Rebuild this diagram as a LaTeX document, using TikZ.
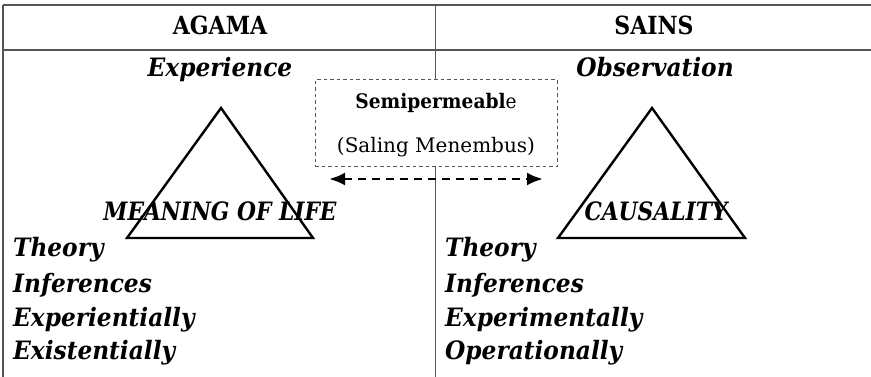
\documentclass[tikz,border=0pt]{standalone}
\usepackage{fontspec}
\setmainfont{DejaVu Serif}
\newfontfamily\headfont{DejaVu Serif}[FakeStretch=0.88]
\newfontfamily\itfont{DejaVu Serif}[FakeStretch=0.92]
\newfontfamily\capsfont{DejaVu Serif}[FakeStretch=0.86]
\newfontfamily\semifont{DejaVu Serif}[FakeStretch=0.93]
\usetikzlibrary{arrows.meta}
\definecolor{rule}{HTML}{555555}
\begin{document}
\begin{tikzpicture}[x=1pt,y=-1pt,
  grid/.style={draw=rule,line width=1.7pt},
  head/.style={inner sep=0pt,anchor=base,font=\headfont\fontsize{25}{28}\selectfont\bfseries},
  term/.style={inner sep=0pt,font=\itfont\fontsize{25.3}{28}\selectfont\bfseries\itshape},
  capterm/.style={inner sep=0pt,anchor=base,font=\capsfont\fontsize{25.3}{28}\selectfont\bfseries\itshape},
  tri/.style={draw=black,line width=2.4pt,line join=miter},
  membrane/.style={draw=rule,line width=1pt,fill=white,dash pattern=on 3.5pt off 3pt},
  boxtext/.style={inner sep=0pt,anchor=base,font=\fontsize{20}{24}\selectfont},
  flow/.style={draw=black,line width=2.8pt,dash pattern=on 8pt off 6pt,{Latex[length=16pt,width=13pt]}-{Latex[length=16pt,width=13pt]}}
]
\useasboundingbox (0,0) rectangle (871,377);

% table rules
\coordinate (tl) at (3,5);
\coordinate (tr) at (871,5);
\coordinate (hl) at (3,50);
\coordinate (hr) at (871,50);
\coordinate (bl) at (3,377);
\coordinate (mt) at (435.5,5);
\coordinate (mb) at (435.5,377);
\draw[grid] (tl) -- (tr);
\draw[grid] (hl) -- (hr);
\draw[grid] (tl) -- (bl);
\draw[grid] (mt) -- (mb);

% column headings
\node[head] (agama) at (220,35) {AGAMA};
\node[head] (sains) at (654,35) {SAINS};

% top labels
\node[term,anchor=base] (exp) at (220,77) {Experience};
\node[term,anchor=base] (obs) at (655,77) {Observation};

% triangles
\coordinate (la) at (221,108);
\coordinate (lb) at (127,238);
\coordinate (lc) at (313,238);
\draw[tri] (la) -- (lb) -- (lc) -- cycle;
\coordinate (ra) at (652,108);
\coordinate (rb) at (558,238);
\coordinate (rc) at (745,238);
\draw[tri] (ra) -- (rb) -- (rc) -- cycle;

\node[capterm] (meaning) at (220,221) {MEANING OF LIFE};
\node[capterm] (causal) at (656,221) {CAUSALITY};

% semipermeable box
\node[membrane,minimum width=242pt,minimum height=87pt,inner sep=0pt] (semi) at (436,123.5) {};
\node[boxtext] (semit) at (436,109) {\semifont\textbf{Semipermeabl}e};
\node[boxtext] (saling) at (436,153) {(Saling Menembus)};
\coordinate (al) at (329,179);
\coordinate (ar) at (543,179);
\draw[flow] (al) -- (ar);

% left list
\node[term,anchor=base west] (l1) at (13,257) {Theory};
\node[term,anchor=base west] (l2) at (13,292) {Inferences};
\node[term,anchor=base west] (l3) at (13,326) {Experientially};
\node[term,anchor=base west] (l4) at (13,359) {Existentially};

% right list
\node[term,anchor=base west] (r1) at (445,257) {Theory};
\node[term,anchor=base west] (r2) at (445,292) {Inferences};
\node[term,anchor=base west] (r3) at (445,326) {Experimentally};
\node[term,anchor=base west] (r4) at (445,359) {Operationally};
\end{tikzpicture}
\end{document}
